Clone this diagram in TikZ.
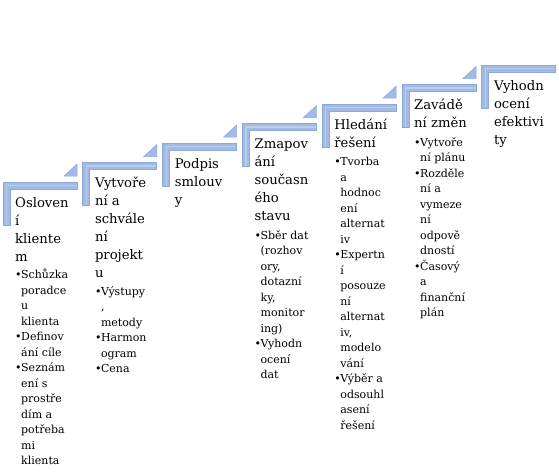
\documentclass[tikz,border=0pt]{standalone}
\usepackage{fontspec}
\setmainfont{DejaVu Serif}
\definecolor{lfill}{HTML}{A3BBE4}
\definecolor{ldraw}{HTML}{8CA9DA}
\definecolor{lstripe}{HTML}{BBCDEC}
\newcommand\ttlfont{\fontsize{13.2}{18}\selectfont}
\newcommand\bulfont{\fontsize{11}{15.5}\selectfont}
\newcommand\bi{\makebox[6pt][l]{•}}
\newcommand\ci{\hspace*{6pt}}
\newcommand\stepL[2]{%
  \draw[corner] (#1,#2) -- ++(74,0) -- ++(0,7) -- ++(-67,0) -- ++(0,36) -- ++(-7,0) -- cycle;
  \draw[stripe] (#1+3.5,#2+42.5) -- (#1+3.5,#2+3.5) -- (#1+73.5,#2+3.5);}
\newcommand\stepT[2]{%
  \draw[tri] (#1+61,#2-6) -- (#1+74,#2-6) -- (#1+74,#2-18) -- cycle;}
\begin{document}
\begin{tikzpicture}[x=1pt,y=-1pt,
  corner/.style={fill=lfill,draw=ldraw,line width=0.8pt,line join=miter},
  stripe/.style={draw=lstripe,line width=1.2pt},
  tri/.style={fill=lfill,draw=ldraw,line width=0.5pt,line join=miter},
  txt/.style={anchor=base west,inner sep=0pt,text=black}]
\useasboundingbox (0,0) rectangle (559,475);
\fill[white] (0,0) rectangle (559,475);
% shapes
\stepL{3}{182}      \stepT{3}{182}
\stepL{82.8}{162.5} \stepT{82.8}{162.5}
\stepL{162.6}{143}  \stepT{162.6}{143}
\stepL{242.4}{123.5}\stepT{242.4}{123.5}
\stepL{322.2}{104}  \stepT{322.2}{104}
\stepL{402}{84.5}   \stepT{402}{84.5}
\stepL{481.8}{65}
% texts
\node[txt] (s1) at (15,207) {\begin{minipage}[t]{100pt}\raggedright
\ttlfont Osloven\\í\\kliente\\m\par\vspace{2pt}
\bulfont\bi Schůzka\\\ci poradce\\\ci u\\\ci klienta\\
\bi Definov\\\ci ání cíle\\
\bi Seznám\\\ci ení s\\\ci prostře\\\ci dím a\\\ci potřeba\\\ci mi\\\ci klienta\par
\end{minipage}};
\node[txt] (s2) at (94.8,187.5) {\begin{minipage}[t]{100pt}\raggedright
\ttlfont Vytvoře\\ní a\\schvále\\ní\\projekt\\u\par\vspace{2pt}
\bulfont\bi Výstupy\\\ci ,\\\ci metody\\
\bi Harmon\\\ci ogram\\
\bi Cena\par
\end{minipage}};
\node[txt] (s3) at (174.6,168) {\begin{minipage}[t]{100pt}\raggedright
\ttlfont Podpis\\smlouv\\y\par
\end{minipage}};
\node[txt] (s4) at (254.4,148.5) {\begin{minipage}[t]{100pt}\raggedright
\ttlfont Zmapov\\ání\\současn\\ého\\stavu\par\vspace{3pt}
\bulfont\bi Sběr dat\\\ci (rozhov\\\ci ory,\\\ci dotazní\\\ci ky,\\\ci monitor\\\ci ing)\\
\bi Vyhodn\\\ci ocení\\\ci dat\par
\end{minipage}};
\node[txt] (s5) at (334.2,129) {\begin{minipage}[t]{100pt}\raggedright
\ttlfont Hledání\\řešení\par\vspace{3pt}
\bulfont\bi Tvorba\\\ci a\\\ci hodnoc\\\ci ení\\\ci alternat\\\ci iv\\
\bi Expertn\\\ci í\\\ci posouze\\\ci ní\\\ci alternat\\\ci iv,\\\ci modelo\\\ci vání\\
\bi Výběr a\\\ci odsouhl\\\ci asení\\\ci řešení\par
\end{minipage}};
\node[txt] (s6) at (414,109.5) {\begin{minipage}[t]{100pt}\raggedright
\ttlfont Zavádě\\ní změn\par\vspace{3pt}
\bulfont\bi Vytvoře\\\ci ní plánu\\
\bi Rozděle\\\ci ní a\\\ci vymeze\\\ci ní\\\ci odpově\\\ci dností\\
\bi Časový\\\ci a\\\ci finanční\\\ci plán\par
\end{minipage}};
\node[txt] (s7) at (493.8,90) {\begin{minipage}[t]{100pt}\raggedright
\ttlfont Vyhodn\\ocení\\efektivi\\ty\par
\end{minipage}};
\end{tikzpicture}
\end{document}
